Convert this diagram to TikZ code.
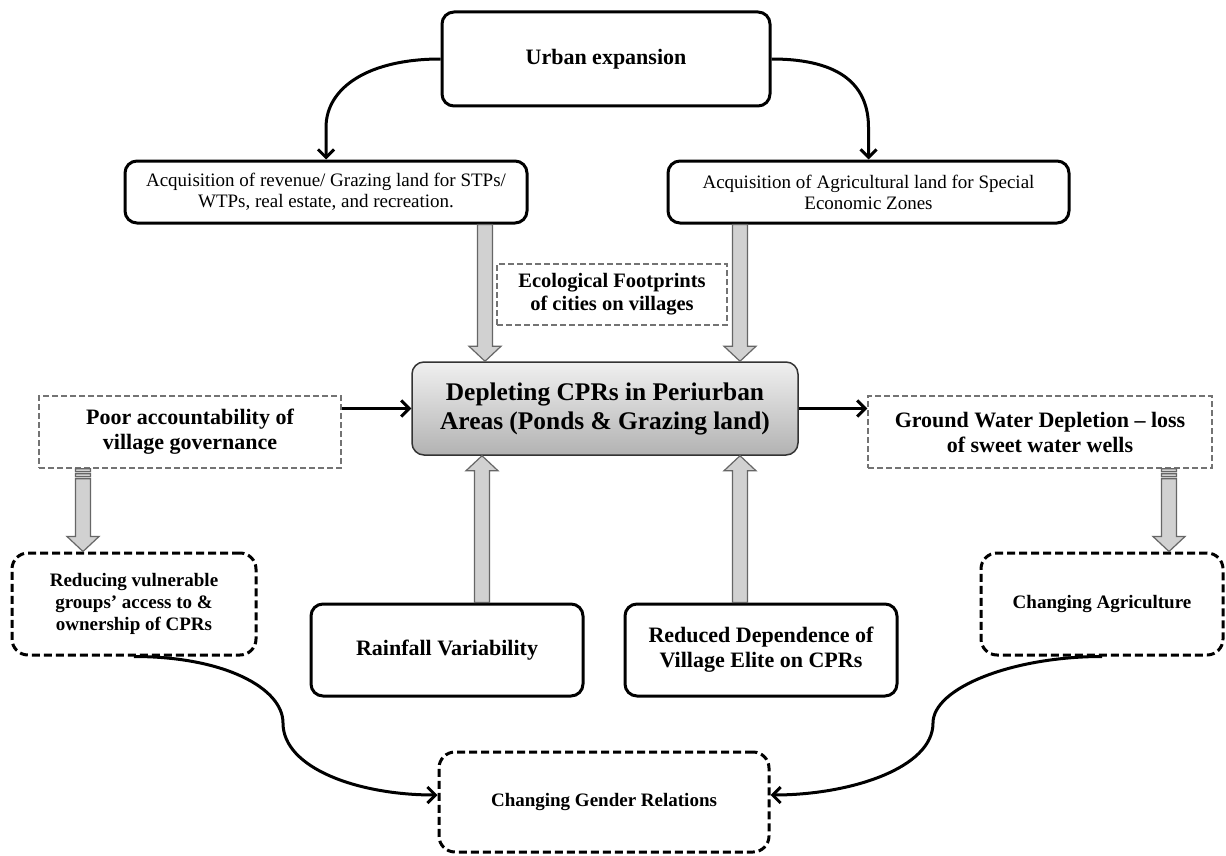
\documentclass[tikz,border=0pt]{standalone}
\usepackage{fontspec}
\setmainfont{Liberation Serif}
\usetikzlibrary{arrows.meta,calc}
\newcommand\blkdown[2]{\draw[blk] let \p1=(#1), \p2=(#2) in
  (\x1-7.5pt,\y1) -- (\x1+7.5pt,\y1) -- (\x1+7.5pt,\y2+15pt) -- (\x1+16pt,\y2+15pt)
  -- (\x1,\y2) -- (\x1-16pt,\y2+15pt) -- (\x1-7.5pt,\y2+15pt) -- cycle;}
\newcommand\blkup[2]{\draw[blk] let \p1=(#1), \p2=(#2) in
  (\x1-7.5pt,\y1) -- (\x1+7.5pt,\y1) -- (\x1+7.5pt,\y2-15pt) -- (\x1+16pt,\y2-15pt)
  -- (\x1,\y2) -- (\x1-16pt,\y2-15pt) -- (\x1-7.5pt,\y2-15pt) -- cycle;}
\newcommand\blkstripe[2]{\draw[blk] let \p1=(#1), \p2=(#2) in
  (\x1-7.5pt,\y1) rectangle (\x1+7.5pt,\y1-3pt)
  (\x1-7.5pt,\y1-5pt) rectangle (\x1+7.5pt,\y1-8pt)
  (\x1-7.5pt,\y1-10pt) -- (\x1+7.5pt,\y1-10pt) -- (\x1+7.5pt,\y2+15pt) -- (\x1+16pt,\y2+15pt)
  -- (\x1,\y2) -- (\x1-16pt,\y2+15pt) -- (\x1-7.5pt,\y2+15pt) -- cycle;}
\begin{document}
\begin{tikzpicture}[x=1pt,y=-1pt,
  solidbox/.style={draw=black, line width=3pt, rounded corners=12pt, fill=white, align=center, inner sep=0pt},
  thickdash/.style={draw=black, line width=3pt, dash pattern=on 8pt off 4pt, rounded corners=16pt, align=center, inner sep=0pt},
  thindash/.style={draw=black!55, line width=1.5pt, dash pattern=on 6pt off 3pt, align=center, inner sep=0pt},
  conn/.style={line width=3pt, -{Straight Barb[length=8pt,width=16pt]}},
  blk/.style={draw=black!60, line width=1.2pt, fill=black!18},
  reg/.style={font=\fontsize{19}{21}\selectfont},
  bigb/.style={font=\fontsize{22}{25}\selectfont\bfseries},
  midb/.style={font=\fontsize{19}{22}\selectfont\bfseries}]
\useasboundingbox (0,0) rectangle (1226,856);
\fill[white] (0,0) rectangle (1226,856);

% nodes
\node[solidbox, bigb, minimum width=328pt, minimum height=94pt] (urban) at (606,59) {Urban expansion};
\node[solidbox, reg, minimum width=402pt, minimum height=62pt] (acqL) at (326,192) {Acquisition of revenue/ Grazing land for STPs/\\WTPs, real estate, and recreation.};
\node[solidbox, reg, minimum width=401pt, minimum height=62pt] (acqR) at (868.5,192) {Acquisition of Agricultural land for Special\\Economic Zones};
\node[thindash, font=\fontsize{20.5}{23}\selectfont\bfseries, minimum width=230pt, minimum height=61pt] (eco) at (612,294.5) {Ecological Footprints\\of cities on villages};
\node[draw=black!80, line width=1.5pt, rounded corners=12pt, top color=black!6, bottom color=black!30,
  align=center, inner sep=0pt, font=\fontsize{25.4}{29}\selectfont\bfseries,
  minimum width=386pt, minimum height=93pt] (cpr) at (605,408.5) {Depleting CPRs in Periurban\\Areas (Ponds \& Grazing land)};
\node[thindash, bigb, minimum width=302pt, minimum height=72pt] (poor) at (190,432) {Poor accountability of\\village governance};
\node[thindash, bigb, minimum width=344pt, minimum height=72pt] (ground) at (1040,432) {Ground Water Depletion – loss\\of sweet water wells};
\node[thickdash, midb, minimum width=244pt, minimum height=102pt] (reduce) at (134,604) {Reducing vulnerable\\groups’ access to \&\\ownership of CPRs};
\node[thickdash, midb, minimum width=242pt, minimum height=102pt] (agri) at (1102,604) {Changing Agriculture};
\node[solidbox, bigb, minimum width=272pt, minimum height=92pt] (rain) at (447,650) {Rainfall Variability};
\node[solidbox, bigb, minimum width=272pt, minimum height=92pt] (elite) at (761,650) {Reduced Dependence of\\Village Elite on CPRs};
\node[thickdash, midb, minimum width=330pt, minimum height=100pt] (gender) at (604,802) {Changing Gender Relations};

% x positions of block arrows
\coordinate (xa) at (485,0);
\coordinate (xb) at (740,0);
\coordinate (xc) at (482,0);
\coordinate (xd) at (83,0);
\coordinate (xe) at (1169,0);

\blkdown{acqL.south -| xa}{cpr.north -| xa}
\blkdown{acqR.south -| xb}{cpr.north -| xb}
\blkup{rain.north -| xc}{cpr.south -| xc}
\blkup{elite.north -| xb}{cpr.south -| xb}
\blkstripe{poor.south -| xd}{reduce.north -| xd}
\blkstripe{ground.south -| xe}{agri.north -| xe}

% curved connectors from urban expansion
\draw[conn] (urban.west) .. controls +(-72,0) and +(0,-40) .. ($(acqL.north)+(0,-32)$) -- (acqL.north);
\draw[conn] (urban.east) .. controls +(72,0) and +(0,-40) .. ($(acqR.north)+(0,-32)$) -- (acqR.north);

% horizontal connectors
\draw[conn] (poor.east |- cpr.west) -- (cpr.west);
\draw[conn] (cpr.east) -- (cpr.east -| ground.west);

% bottom curves
\coordinate (lm) at (283,723);
\coordinate (rm) at (933,723);
\draw[conn] (reduce.south) .. controls +(90,0) and +(0,-35) .. (lm) .. controls +(0,45) and +(-80,0) .. ($(gender.west)+(0,-7)$);
\draw[conn] (agri.south) .. controls +(-90,0) and +(0,-35) .. (rm) .. controls +(0,45) and +(80,0) .. ($(gender.east)+(0,-7)$);
\end{tikzpicture}
\end{document}
